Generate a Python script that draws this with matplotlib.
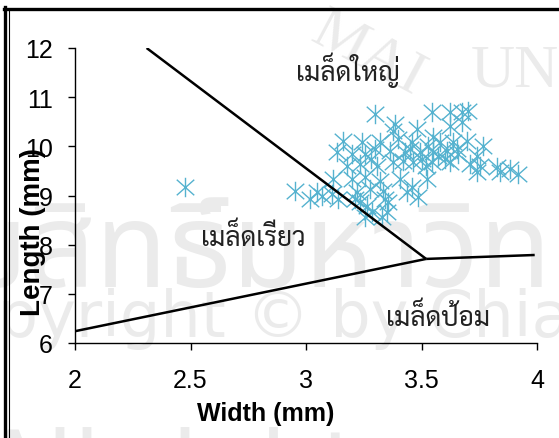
import matplotlib
matplotlib.use('Agg')
import matplotlib.pyplot as plt
from matplotlib.path import Path
from matplotlib.lines import Line2D

# seed measurements: width / length in mm
width_mm = [3.299, 3.545, 3.623, 3.675, 3.701,
            3.385, 3.481, 3.623, 3.675, 3.377,
            3.160, 3.242, 3.320, 3.398, 3.459, 3.528, 3.580, 3.636, 3.697, 3.766,
            3.134, 3.199, 3.255, 3.364, 3.429, 3.494, 3.550, 3.610, 3.654, 3.740,
            3.177, 3.234, 3.307, 3.377, 3.463, 3.545, 3.623, 3.710, 3.753, 3.827, 3.883,
            3.117, 3.199, 3.255, 3.320, 3.407, 3.524,
            2.952, 3.048, 3.113, 3.221, 3.277, 3.333,
            3.212, 3.264, 3.342,
            3.017, 3.069, 3.139, 3.234, 3.355, 3.329, 3.351, 3.286, 3.255,
            3.485, 3.437, 3.459, 3.740, 3.840, 3.918,
            3.500, 3.570, 3.600, 3.450, 3.520, 3.660, 3.420, 3.550, 3.300, 3.280,
            2.476]
length_mm = [10.65, 10.70, 10.70, 10.70, 10.72,
             10.45, 10.35, 10.41, 10.49, 10.31,
             10.11, 10.09, 10.09, 10.15, 10.09, 10.00, 10.09, 10.09, 10.11, 10.00,
             9.88, 9.84, 9.84, 9.90, 9.88, 9.88, 9.88, 9.90, 9.94, 9.80,
             9.60, 9.64, 9.60, 9.68, 9.68, 9.68, 9.68, 9.64, 9.60, 9.58, 9.54,
             9.33, 9.33, 9.37, 9.29, 9.33, 9.33,
             9.09, 9.07, 9.03, 9.07, 9.13, 9.09,
             8.93, 8.78, 8.93,
             8.93, 8.99, 8.93, 8.87, 8.87, 8.56, 8.66, 8.66, 8.56,
             8.97, 9.07, 9.17, 9.48, 9.48, 9.43,
             9.75, 9.80, 9.75, 9.95, 9.60, 9.85, 9.70, 10.20, 9.95, 9.75,
             9.17]

# class boundaries
bound_big_x = [2.31, 3.52]
bound_big_y = [12.0, 7.71]
bound_slim_x = [2.0, 3.52]
bound_slim_y = [6.24, 7.71]
bound_round_x = [3.52, 3.99]
bound_round_y = [7.71, 7.79]

class_labels = ['เมล็ดใหญ่', 'เมล็ดเรียว', 'เมล็ดป้อม']
class_x = [3.18, 2.77, 3.57]
class_y = [11.57, 8.15, 6.53]

xticks = [2, 2.5, 3, 3.5, 4]
yticks = [6, 7, 8, 9, 10, 11, 12]

plt.rcParams['font.family'] = ['Liberation Sans', 'DejaVu Sans']

fig = plt.figure(figsize=(5.59, 4.39), dpi=100)

# faint background watermark, kept under the axes
wm = '#ebebeb'
fig.text(-104 / 559, 1 - 287 / 439, 'ลิขสิทธิ์มหาวิทยาลัยเชียงใหม่', family='Noto Sans Thai',
         fontweight='bold', fontsize=85, color=wm, va='baseline', zorder=-5)
fig.text(-86 / 559, 1 - 337 / 439, 'Copyright © by Chiang Mai University', family='DejaVu Sans',
         fontsize=46, color=wm, va='baseline', zorder=-5)
fig.text(-20 / 559, 1 - 500 / 439, 'All rights reserved', family='DejaVu Sans',
         fontsize=70, color=wm, va='baseline', zorder=-5)
fig.text(368 / 559, 1 - 55 / 439, 'MAI', family='Liberation Serif', fontsize=44, color=wm,
         rotation=-28, ha='center', va='center', zorder=-5)
fig.text(515 / 559, 1 - 72 / 439, 'UN', family='Liberation Serif', fontsize=44, color=wm,
         ha='center', va='center', zorder=-5)

ax = fig.add_axes([75 / 559, 1 - 344 / 439, 462 / 559, 295 / 439])
ax.patch.set_alpha(0)

# excel style star marker: X plus vertical bar
star = Path([(-0.9, -0.8), (0.9, 0.8), (-0.9, 0.8), (0.9, -0.8), (0, -1), (0, 1)],
            [Path.MOVETO, Path.LINETO, Path.MOVETO, Path.LINETO, Path.MOVETO, Path.LINETO])
ax.plot(width_mm, length_mm, linestyle='none', marker=star, markersize=14,
        markerfacecolor='none', markeredgecolor='#55b2cf', markeredgewidth=1.0, zorder=2)

for bx, by in [(bound_big_x, bound_big_y), (bound_slim_x, bound_slim_y), (bound_round_x, bound_round_y)]:
    ax.plot(bx, by, color='black', lw=1.8, solid_capstyle='butt', zorder=3)

for lab, tx, ty in zip(class_labels, class_x, class_y):
    ax.text(tx, ty, lab, family='Sarabun', fontsize=19, ha='center', va='center', color='#222222')

ax.set_xlim(2, 4)
ax.set_ylim(6, 12)
ax.set_xticks(xticks)
ax.set_xticklabels([f'{t:g}' for t in xticks])
ax.set_yticks(yticks)
ax.spines['top'].set_visible(False)
ax.spines['right'].set_visible(False)
for s in ['left', 'bottom']:
    ax.spines[s].set_linewidth(1.0)
ax.tick_params(axis='both', direction='out', length=5, width=1.0, labelsize=18)
ax.tick_params(axis='y', pad=11)
ax.tick_params(axis='x', pad=13)

ax.set_xlabel('Width (mm)', fontsize=18, fontweight='bold')
ax.set_ylabel('Length (mm)', fontsize=20, fontweight='bold')
ax.xaxis.set_label_coords(0.413, -0.195)
ax.yaxis.set_label_coords(-0.062, 0.38)

# outer frame: heavy line with thin inner rule on left and top
fig.add_artist(Line2D([5 / 559, 5 / 559], [0, 1 - 8 / 439], color='black', lw=2.4))
fig.add_artist(Line2D([4 / 559, 1], [1 - 9.5 / 439, 1 - 9.5 / 439], color='black', lw=2.4))
fig.add_artist(Line2D([9 / 559, 9 / 559], [0, 1 - 12 / 439], color='black', lw=0.8))

fig.savefig('out.png', dpi=100)
